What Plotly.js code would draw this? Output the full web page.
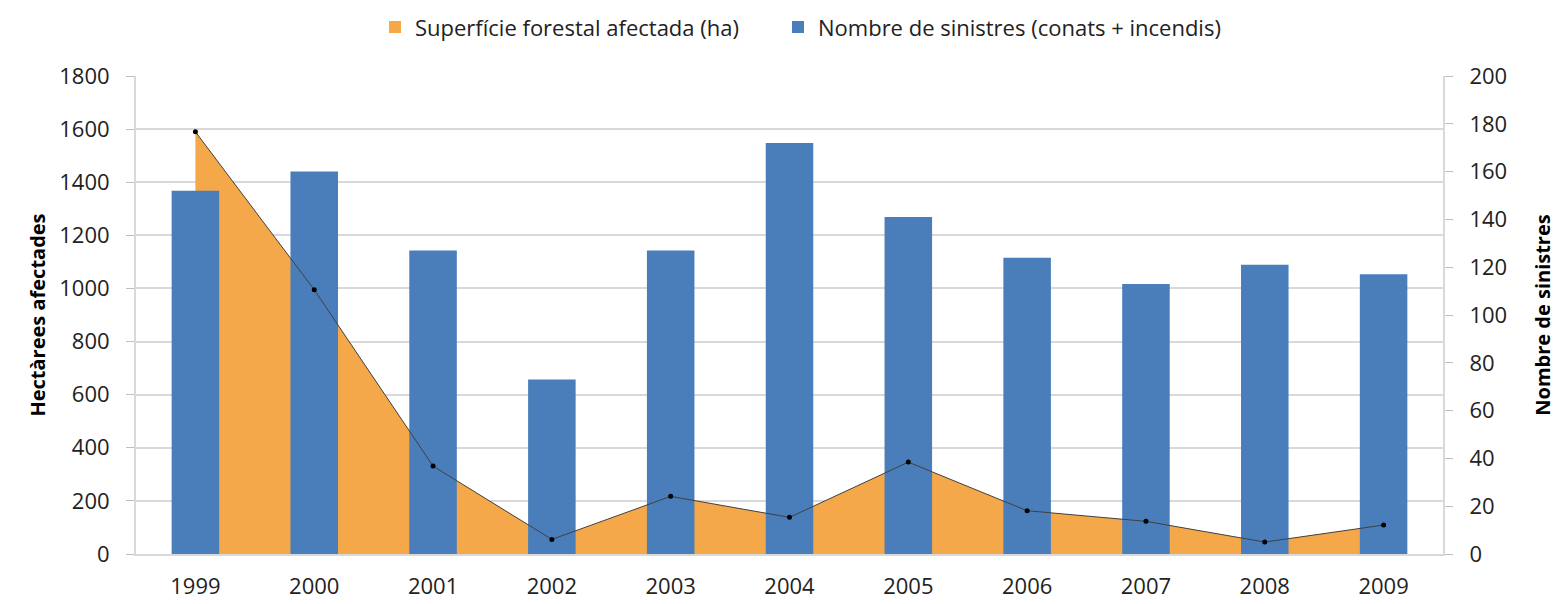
<!DOCTYPE html>
<html>
<head>
<meta charset="utf-8">
<script src="https://cdn.plot.ly/plotly-3.0.1.min.js"></script>
<style>
  html, body { margin: 0; padding: 0; background: #fff; }
  #chart { width: 1560px; height: 604px; }
</style>
</head>
<body>
<div id="chart"></div>
<script>
// Superfície forestal afectada i nombre de sinistres, 1999-2009

const years = ['1999', '2000', '2001', '2002', '2003', '2004', '2005', '2006', '2007', '2008', '2009'];
const hectares = [1590, 995, 331, 55, 217, 138, 346, 163, 123, 45, 109];
const sinistres = [152, 160, 127, 73, 127, 172, 141, 124, 113, 121, 117];

const ORANGE = '#F5A84A';
const BLUE = '#4A7EBB';
const FONT = '"Open Sans", Lato, sans-serif';

const traces = [
  // area fill, behind bars
  {
    x: years, y: hectares,
    type: 'scatter', mode: 'none',
    fill: 'tozeroy', fillcolor: ORANGE,
    showlegend: false,
    yaxis: 'y', hoverinfo: 'skip'
  },
  // zero-height bar, only there to give the area a square legend swatch
  {
    x: [years[0]], y: [0],
    type: 'bar', width: 0.01,
    marker: {color: ORANGE, line: {width: 0}},
    name: 'Superfície forestal afectada (ha)',
    yaxis: 'y', hoverinfo: 'skip',
    legend: 'legend'
  },
  {
    x: years, y: sinistres,
    type: 'bar', width: 0.4,
    marker: {color: BLUE, line: {width: 0}},
    name: 'Nombre de sinistres (conats + incendis)',
    yaxis: 'y2',
    legend: 'legend2'
  },
  // outline with dots, on top of bars
  {
    x: years, y: hectares,
    type: 'scatter', mode: 'lines+markers',
    line: {color: '#404040', width: 1},
    marker: {color: '#000', size: 5},
    showlegend: false,
    yaxis: 'y3'
  }
];

const legendBase = {
  orientation: 'h', xref: 'container', xanchor: 'left',
  yref: 'container', y: 0.955, yanchor: 'middle',
  font: {size: 22, color: '#222'}, itemwidth: 30
};

const layout = {
  width: 1560, height: 604,
  margin: {l: 136, r: 117, t: 76, b: 50},
  paper_bgcolor: '#fff', plot_bgcolor: '#fff',
  font: {family: FONT, size: 22, color: '#222'},
  showlegend: true,
  legend: Object.assign({}, legendBase, {x: 375 / 1560}),
  legend2: Object.assign({}, legendBase, {x: 778 / 1560}),
  barmode: 'overlay',
  xaxis: {
    type: 'category', range: [-0.5, 10.5],
    showgrid: false, zeroline: false,
    showline: true, linecolor: '#d9d9d9', linewidth: 2,
    ticks: '', ticklabelstandoff: 12,
    tickfont: {size: 22}
  },
  yaxis: {
    range: [0, 1800], dtick: 200,
    title: {text: 'Hectàrees afectades', font: {size: 20, color: '#000', weight: 'bold'}, standoff: 8},
    showgrid: true, gridcolor: '#d9d9d9', gridwidth: 2,
    zeroline: false,
    showline: true, linecolor: '#d9d9d9', linewidth: 2,
    ticks: 'outside', ticklen: 8, tickcolor: '#bfbfbf', tickwidth: 1,
    ticklabelstandoff: 12,
    tickfont: {size: 22}
  },
  yaxis2: {
    range: [0, 200], dtick: 20,
    overlaying: 'y', side: 'right',
    title: {text: 'Nombre de sinistres', font: {size: 20, color: '#000', weight: 'bold'}, standoff: 30},
    showgrid: false, zeroline: false,
    showline: true, linecolor: '#d9d9d9', linewidth: 2,
    ticks: 'outside', ticklen: 8, tickcolor: '#bfbfbf', tickwidth: 1,
    ticklabelstandoff: 12,
    tickfont: {size: 22}
  },
  yaxis3: {
    range: [0, 1800], overlaying: 'y',
    visible: false, showgrid: false, zeroline: false
  }
};

Plotly.newPlot('chart', traces, layout, {displayModeBar: false, staticPlot: true});
</script>
</body>
</html>
